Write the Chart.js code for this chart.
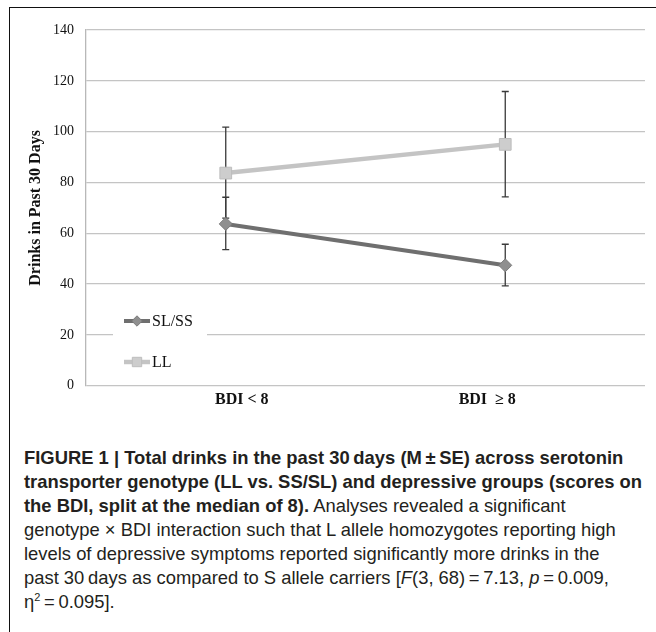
<!DOCTYPE html>
<html><head><meta charset="utf-8">
<script src="https://cdn.jsdelivr.net/npm/chart.js@4.4.1/dist/chart.umd.min.js"></script>
<style>
html,body{margin:0;padding:0;background:#fff;width:656px;height:632px;overflow:hidden;}
#frame{position:absolute;left:9px;top:7px;width:700px;height:700px;border-top:1.5px solid #111;border-left:1.5px solid #111;box-sizing:border-box;}
#wrap{position:absolute;left:0;top:0;width:656px;height:440px;}
#caption{position:absolute;left:24px;top:446px;font-family:"Liberation Sans Narrow","Arial Narrow","Liberation Sans",sans-serif;font-size:18.4px;line-height:24px;color:#231f20;white-space:nowrap;}
#caption b{font-weight:bold;}
</style></head><body>
<div id="frame"></div>
<div id="wrap"><canvas id="c" width="656" height="440" style="width:656px;height:440px"></canvas></div>
<div id="caption"><b>FIGURE 1 | Total drinks in the past 30&thinsp;days (M&thinsp;±&thinsp;SE) across serotonin</b><br><b>transporter genotype (LL vs. SS/SL) and depressive groups (scores on</b><br><b>the BDI, split at the median of 8).</b> Analyses revealed a significant<br>genotype × BDI interaction such that L allele homozygotes reporting high<br>levels of depressive symptoms reported significantly more drinks in the<br>past 30&thinsp;days as compared to S allele carriers [<i>F</i>(3, 68)&thinsp;=&thinsp;7.13, <i>p</i>&thinsp;=&thinsp;0.009,<br>η<sup style="font-size:11px;line-height:0">2</sup>&thinsp;=&thinsp;0.095].</div>
<script>
// ---- data ----
const categories = ["BDI < 8", "BDI  \u2265 8"];
const seriesNames = ["SL/SS", "LL"];
const slssMean = [63.7, 47.4];
const slssLow  = [53.6, 39.3];
const slssHigh = [74.2, 55.7];
const llMean = [83.7, 95.0];
const llLow  = [66.0, 74.3];
const llHigh = [101.8, 115.8];
const yTickValues = [0, 20, 40, 60, 80, 100, 120, 140];
const yTitle = "Drinks in Past 30 Days";

const errorLows = [slssLow, llLow];
const errorHighs = [slssHigh, llHigh];

const errorBarsPlugin = {
  id: 'errorBars',
  beforeDatasetsDraw(chart, args, opts) {
    const {ctx, scales: {x, y}} = chart;
    ctx.save();
    ctx.strokeStyle = opts.color;
    ctx.lineWidth = opts.width;
    chart.data.datasets.forEach((ds, di) => {
      const lows = errorLows[di], highs = errorHighs[di];
      ds.data.forEach((v, i) => {
        const px = x.getPixelForValue(i);
        const yl = y.getPixelForValue(lows[i]);
        const yh = y.getPixelForValue(highs[i]);
        ctx.beginPath();
        ctx.moveTo(px, yl); ctx.lineTo(px, yh);
        ctx.moveTo(px - opts.cap, yl); ctx.lineTo(px + opts.cap, yl);
        ctx.moveTo(px - opts.cap, yh); ctx.lineTo(px + opts.cap, yh);
        ctx.stroke();
      });
    });
    ctx.restore();
  }
};

const insideLegendPlugin = {
  id: 'insideLegend',
  afterDraw(chart, args, opts) {
    const {ctx} = chart;
    ctx.save();
    ctx.fillStyle = '#fff';
    ctx.fillRect(opts.boxX, opts.boxY, opts.boxW, opts.boxH);
    chart.data.datasets.forEach((ds, i) => {
      const cy = opts.firstY + i * opts.rowGap;
      ctx.strokeStyle = ds.borderColor;
      ctx.lineWidth = ds.borderWidth;
      ctx.beginPath();
      ctx.moveTo(opts.lineX, cy); ctx.lineTo(opts.lineX + opts.lineW, cy);
      ctx.stroke();
      ctx.fillStyle = ds.pointBackgroundColor;
      ctx.strokeStyle = ds.pointBorderColor;
      ctx.lineWidth = 1;
      Chart.helpers.drawPoint(ctx, {pointStyle: ds.pointStyle, radius: ds.pointRadius * 0.8, borderWidth: 1, rotation: 0}, opts.lineX + opts.lineW / 2, cy);
      ctx.fillStyle = '#111';
      ctx.font = opts.font;
      ctx.textBaseline = 'middle';
      ctx.textAlign = 'left';
      ctx.fillText(ds.label, opts.lineX + opts.lineW + 2, cy + 1);
    });
    ctx.restore();
  }
};

new Chart(document.getElementById('c'), {
  type: 'line',
  data: {
    labels: categories,
    datasets: [
      {
        label: seriesNames[0], data: slssMean,
        borderColor: '#6f6f6f', borderWidth: 4,
        pointStyle: 'rectRot', pointRadius: 6.5,
        pointBackgroundColor: '#8f8f8f', pointBorderColor: '#7c7c7c', pointBorderWidth: 1,
        tension: 0
      },
      {
        label: seriesNames[1], data: llMean,
        borderColor: '#c4c4c4', borderWidth: 4.5,
        pointStyle: 'rect', pointRadius: 8.3,
        pointBackgroundColor: '#cdcdcd', pointBorderColor: '#bdbdbd', pointBorderWidth: 1,
        tension: 0
      }
    ]
  },
  options: {
    responsive: false,
    animation: false,
    events: [],
    layout: {padding: {left: 10, right: 11, top: 30, bottom: 27}},
    plugins: {
      legend: {display: false},
      tooltip: {enabled: false},
      errorBars: {color: '#3a3a3a', width: 1.3, cap: 3.5},
      insideLegend: {
        boxX: 113, boxY: 305, boxW: 94, boxH: 72,
        lineX: 124, lineW: 26, firstY: 321, rowGap: 41,
        font: '16px "Liberation Serif", "Times New Roman", serif'
      }
    },
    scales: {
      x: {
        type: 'category',
        offset: true,
        grid: {display: false, drawTicks: false},
        border: {display: false},
        ticks: {
          padding: 4,
          color: '#111',
          font: {family: '"Liberation Serif", "Times New Roman", serif', size: 16, weight: 'bold'},
          callback: function(v, i) {
            const lab = this.getLabelForValue(v);
            return i === 0 ? '        ' + lab : lab + '         ';
          }
        }
      },
      y: {
        min: 0, max: 140,
        afterBuildTicks: (s) => { s.ticks = yTickValues.map(v => ({value: v})); },
        afterFit: (s) => { s.width = 76; },
        grid: {color: '#c4c4c4', lineWidth: 1.3, drawTicks: false},
        border: {display: true, color: '#b8b8b8', width: 1.3},
        ticks: {
          padding: 12,
          color: '#111',
          font: {family: '"Liberation Serif", "Times New Roman", serif', size: 14}
        },
        title: {
          display: true, text: yTitle,
          color: '#111',
          padding: {top: 16, bottom: 4},
          font: {family: '"Liberation Serif", "Times New Roman", serif', size: 16, weight: 'bold'}
        }
      }
    }
  },
  plugins: [errorBarsPlugin, insideLegendPlugin]
});
</script>
</body></html>
